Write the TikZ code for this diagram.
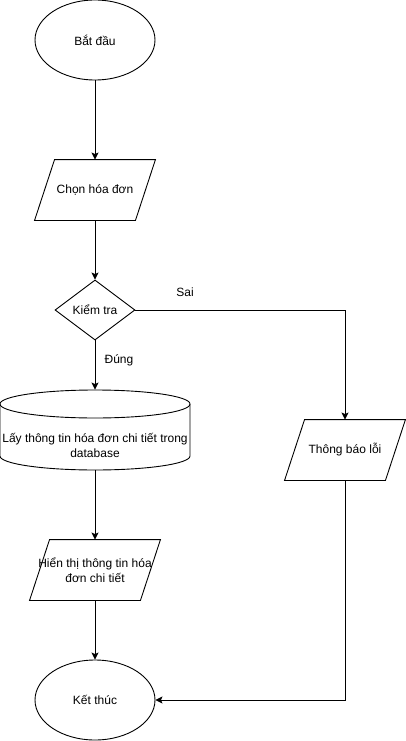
\documentclass[tikz,border=0pt]{standalone}
\usepackage{fontspec}
\setmainfont{Liberation Sans}
\usetikzlibrary{shapes.geometric,arrows.meta}
\begin{document}
\begin{tikzpicture}[x=1pt,y=-1pt,
  font=\fontsize{12}{15}\selectfont, line width=0.9pt,
  arr/.style={-{Stealth[length=7pt,width=7pt,inset=1.5pt]}},
  term/.style={draw, ellipse, minimum width=120pt, minimum height=80pt, inner sep=0pt},
  box/.style={inner sep=0pt, align=center},
  dia/.style={draw, diamond, minimum width=80pt, minimum height=60pt, aspect=1.333, inner sep=0pt},
  lbl/.style={inner sep=0pt}]
\useasboundingbox (0,0) rectangle (406,741);
% nodes
\node[term] (start) at (95,40) {Bắt đầu};
\node[box, minimum width=120pt, minimum height=60pt] (chon) at (95,190) {Chọn hóa đơn};
\node[dia] (kt) at (95,310) {Kiểm tra};
\node[box, minimum width=190pt, minimum height=80pt] (db) at (95,430) {};
\node[box] (dbtxt) at (95,445) {Lấy thông tin hóa đơn chi tiết trong\\database};
\node[box, minimum width=120pt, minimum height=60pt] (tb) at (345,450) {Thông báo lỗi};
\node[box, minimum width=130pt, minimum height=60pt] (ht) at (95,570) {Hiển thị thông tin hóa\\đơn chi tiết};
\node[term] (end) at (95,700) {Kết thúc};
\node[lbl] (sai) at (185,292) {Sai};
\node[lbl] (dung) at (119,360) {Đúng};
% parallelograms
\draw ([xshift=20pt]chon.north west) -- (chon.north east) -- ([xshift=-20pt]chon.south east) -- (chon.south west) -- cycle;
\draw ([xshift=20pt]tb.north west) -- (tb.north east) -- ([xshift=-20pt]tb.south east) -- (tb.south west) -- cycle;
\draw ([xshift=20pt]ht.north west) -- (ht.north east) -- ([xshift=-20pt]ht.south east) -- (ht.south west) -- cycle;
% cylinder
\draw (95,404) ellipse [x radius=95pt, y radius=14pt];
\draw (0,404) -- (0,456) arc[start angle=180, end angle=360, x radius=95pt, y radius=14pt] -- (190,404);
% connectors
\draw[arr] (start.south) -- (chon.north);
\draw[arr] (chon.south) -- (kt.north);
\draw[arr] (kt.east) -| (tb.north);
\draw[arr] (kt.south) -- (db.north);
\draw[arr] (db.south) -- (ht.north);
\draw[arr] (ht.south) -- (end.north);
\draw[arr] (tb.south) |- (end.east);
\end{tikzpicture}
\end{document}
